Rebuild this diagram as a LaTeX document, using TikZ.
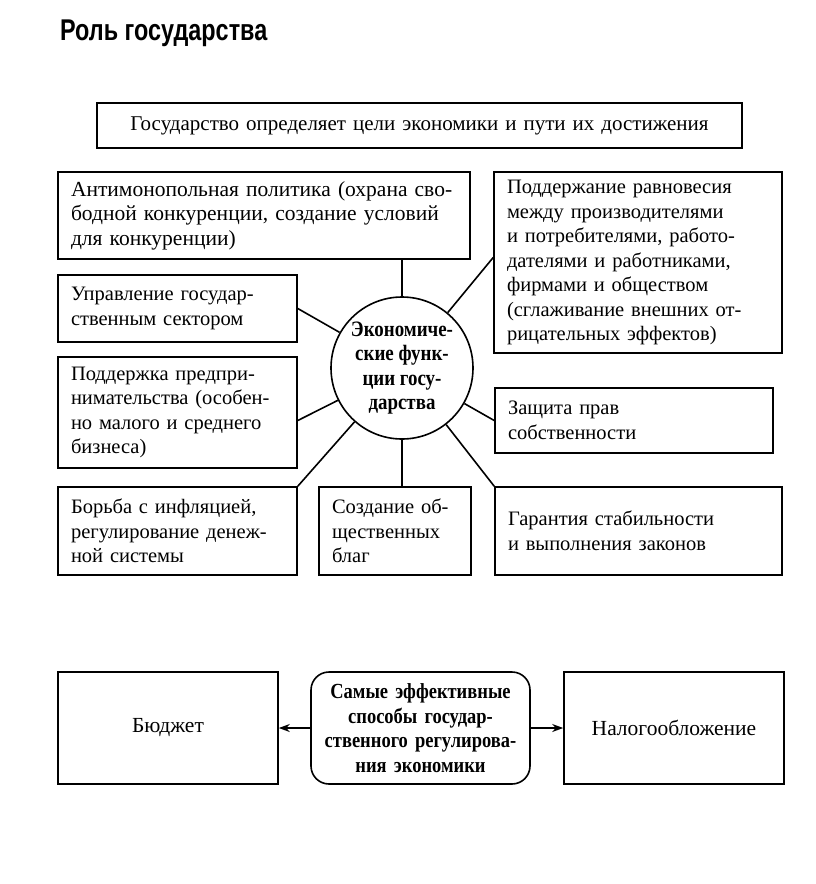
\documentclass[tikz,border=0pt]{standalone}
\usepackage{fontspec}
\setmainfont{Liberation Serif}
\newfontfamily\headfont[FakeStretch=0.78]{Liberation Sans}
\newfontfamily\narrowfont[FakeStretch=0.86]{Liberation Serif}
\usetikzlibrary{arrows.meta,positioning}

\begin{document}
\begin{tikzpicture}[x=1pt, y=-1pt,
		every node/.style={font=\fontsize{20.5}{24.5}\selectfont},
		fbox/.style={draw, rectangle, line width=1.6pt, inner xsep=13pt, inner ysep=0pt, align=left},
		core/.style={draw, circle, line width=1.6pt, inner sep=0pt, minimum size=142pt, align=center,
			font=\narrowfont\bfseries\fontsize{22}{24.5}\selectfont}]
		\useasboundingbox (0,0) rectangle (816,884);
		\node[anchor=base west, inner sep=0pt, font=\headfont\bfseries\fontsize{30}{30}\selectfont] (title) at (60,40) {Роль государства};
		
		\node[fbox, align=center, text width=619pt, minimum height=45pt, font=\fontsize{21}{24.5}\selectfont] (goal) at (419.5,125.5)
		{Государство определяет цели экономики и пути их достижения};
		
		% functions round the circle
		\node[core] (fn) at (402,368) {Экономиче-\\ские функ-\\ции госу-\\дарства};
		\node[fbox, text width=386pt, minimum height=87pt, font=\fontsize{21.5}{24.5}\selectfont] (anti) at (264,215.5)
		{Антимонопольная политика (охрана сво-\\бодной конкуренции, создание условий\\для конкуренции)};
		\node[fbox, text width=213pt, minimum height=67pt] (sector) at (177.5,308.5)
		{Управление государ-\\ственным сектором};
		\node[fbox, text width=213pt, minimum height=111pt] (business) at (177.5,412.5)
		{Поддержка предпри-\\нимательства (особен-\\но малого и среднего\\бизнеса)};
		\node[fbox, text width=213pt, minimum height=88pt] (inflation) at (177.5,531)
		{Борьба с инфляцией,\\регулирование денеж-\\ной системы};
		\node[fbox, text width=126pt, minimum height=88pt] (goods) at (395,531)
		{Создание об-\\щественных\\благ};
		\node[fbox, text width=261pt, minimum height=88pt] (laws) at (638.5,531)
		{Гарантия стабильности\\и выполнения законов};
		\node[fbox, text width=252pt, minimum height=65pt] (property) at (634,420.5)
		{Защита прав\\собственности};
		\node[fbox, text width=262pt, minimum height=181pt] (balance) at (638,262.5)
		{Поддержание равновесия\\между производителями\\и потребителями, работо-\\дателями и работниками,\\фирмами и обществом\\(сглаживание внешних от-\\рицательных эффектов)};
		
		% regulation
		\node[fbox, align=center, text width=194pt, minimum height=112pt, font=\fontsize{21.5}{24.5}\selectfont] (budget) at (168,728) {Бюджет};
		\node[fbox, align=center, rounded corners=18pt, inner xsep=5pt, text width=209pt, minimum height=112pt,
		font=\narrowfont\bfseries\fontsize{21.5}{24.5}\selectfont] (ways) at (420.5,728)
		{Самые эффективные\\способы государ-\\ственного регулирова-\\ния экономики};
		\node[fbox, align=center, text width=194pt, minimum height=112pt, font=\fontsize{21.5}{24.5}\selectfont] (tax) at (674,728) {Налогообложение};
		
		\begin{scope}[every path/.style={line width=1.6pt}]
			\path (fn)
			edge (fn |- anti.south)
			edge (sector.east)
			edge ([yshift=-8pt]business.east)
			edge (inflation.north east)
			edge (fn |- goods.north)
			edge (laws.north west)
			edge (property.west)
			edge ([yshift=5pt]balance.west);
			\path[-{Stealth[length=11pt,width=8pt]}] (ways)
			edge (budget)
			edge (tax);
		\end{scope}
	\end{tikzpicture}
\end{document}
